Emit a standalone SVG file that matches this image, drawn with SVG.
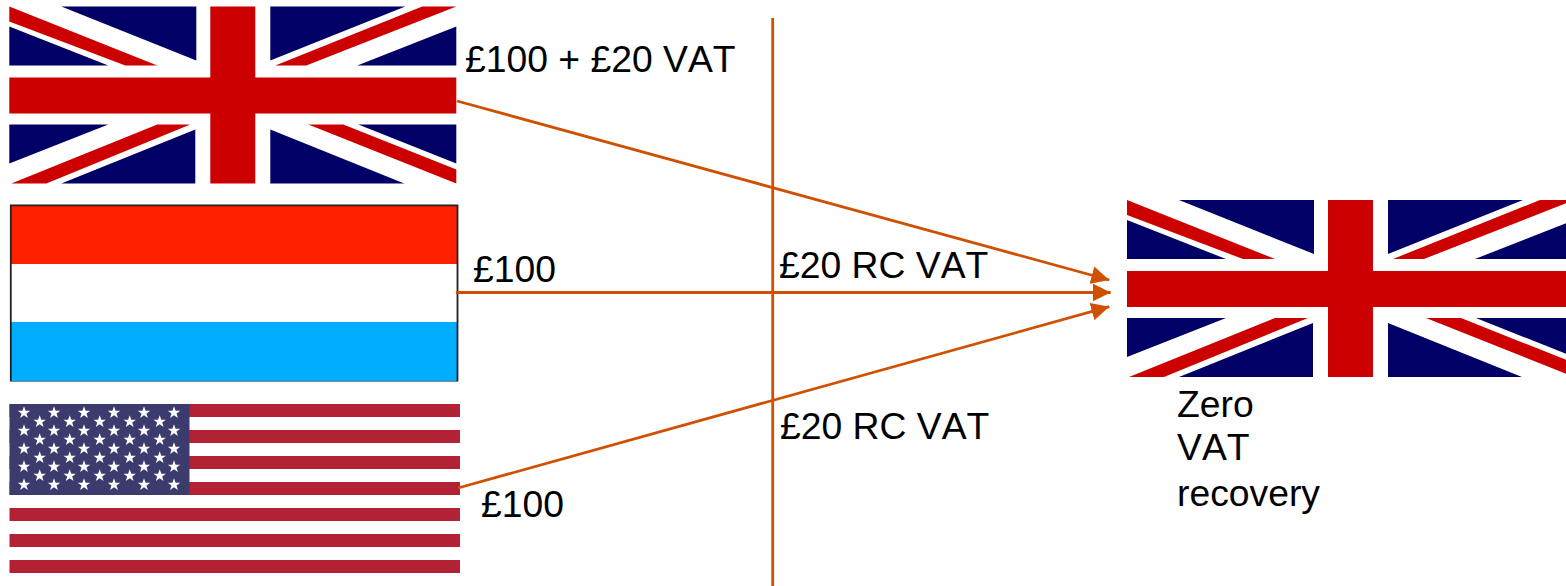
<svg xmlns="http://www.w3.org/2000/svg" xmlns:xlink="http://www.w3.org/1999/xlink" width="1566" height="586" viewBox="0 0 1566 586">
<style>
text{font-family:"Liberation Sans",Arial,sans-serif;font-size:37.3px;fill:#000;font-kerning:none}
.b{fill:#000066}.r{fill:#cc0000}.s{fill:#b22234}
.c{fill:none;stroke:#d05000;stroke-width:2.8}
</style>
<defs>
<marker id="ah" markerUnits="userSpaceOnUse" markerWidth="19" markerHeight="18" refX="18" refY="9" orient="auto" viewBox="0 0 19 18"><path d="M0 0L18 9L0 18Z" fill="#d05000"/></marker>
<g id="uk">
<rect width="447" height="177" fill="#fff"/>
<path class="b" d="M52 0H187V54ZM0 20L99 59H0ZM261 0H396L261 54ZM447 20V59H348ZM0 118H99L0 157ZM186 123V177H52ZM261 123L395 177H261ZM349 118H447V157Z"/>
<path class="r" d="M0 0V15L116 59H148ZM413 0H447L297 59H266ZM148 118H181L37 177H2ZM299 118H334L447 163V177Z"/>
<path class="r" d="M201 0H246V71H447V107H246V177H201V107H0V71H201Z"/>
</g>
<path id="st" fill="#fff" d="M0-6.5L1.6-2H6.2L2.5 .8 3.9 5.3 0 2.6-3.9 5.3-2.5 .8-6.2-2H-1.6Z"/>
<g id="r6"><use href="#st" x="24"/><use href="#st" x="54"/><use href="#st" x="84"/><use href="#st" x="114"/><use href="#st" x="144"/><use href="#st" x="174"/></g>
<g id="r5"><use href="#st" x="39.7"/><use href="#st" x="69.7"/><use href="#st" x="99.7"/><use href="#st" x="129.7"/><use href="#st" x="159.7"/></g>
</defs>
<g id="flag-uk-source"><use href="#uk" x="9.3" y="6.5"/></g>
<g id="flag-luxembourg">
<rect x="10.5" y="205" width="447" height="59" fill="#ff2000"/>
<rect x="10.5" y="264" width="447" height="58" fill="#fff"/>
<rect x="10.5" y="322" width="447" height="59" fill="#00aeff"/>
<path d="M10.8 381.3V205.3H457.5V381.3" fill="none" stroke="#222" stroke-width="1.8"/>
<path d="M10 381.3H458" fill="none" stroke="#667" stroke-width="1"/>
</g>
<g id="flag-usa">
<path class="s" d="M9.5 404H460V417H9.5ZM9.5 430H460V443H9.5ZM9.5 456H460V469H9.5ZM9.5 482H460V495H9.5ZM9.5 508H460V521H9.5ZM9.5 534H460V547H9.5ZM9.5 560H460V573H9.5Z"/>
<rect x="9.5" y="404" width="180" height="91" fill="#3c3b6e"/>
<use href="#r6" y="412.7"/><use href="#r5" y="421.7"/><use href="#r6" y="430.7"/><use href="#r5" y="439.7"/><use href="#r6" y="448.7"/><use href="#r5" y="457.7"/><use href="#r6" y="466.7"/><use href="#r5" y="475.7"/><use href="#r6" y="484.7"/>
</g>
<g id="flag-uk-destination"><use href="#uk" x="1127" y="200"/></g>
<g id="connectors">
<path class="c" d="M772.7 18V586"/>
<path class="c" marker-end="url(#ah)" d="M457 101L1109.3 280"/>
<path class="c" marker-end="url(#ah)" d="M456 292.5H1110.7"/>
<path class="c" marker-end="url(#ah)" d="M458 488L1109.3 306.7"/>
</g>
<g id="labels">
<text x="465" y="72">£100 + £20 VAT</text>
<text x="473" y="282">£100</text>
<text x="481" y="517">£100</text>
<text x="779" y="278">£20 RC VAT</text>
<text x="780" y="439">£20 RC VAT</text>
<text x="1177" y="417">Zero</text>
<text x="1177" y="460">VAT</text>
<text x="1177" y="506">recovery</text>
</g>
</svg>
